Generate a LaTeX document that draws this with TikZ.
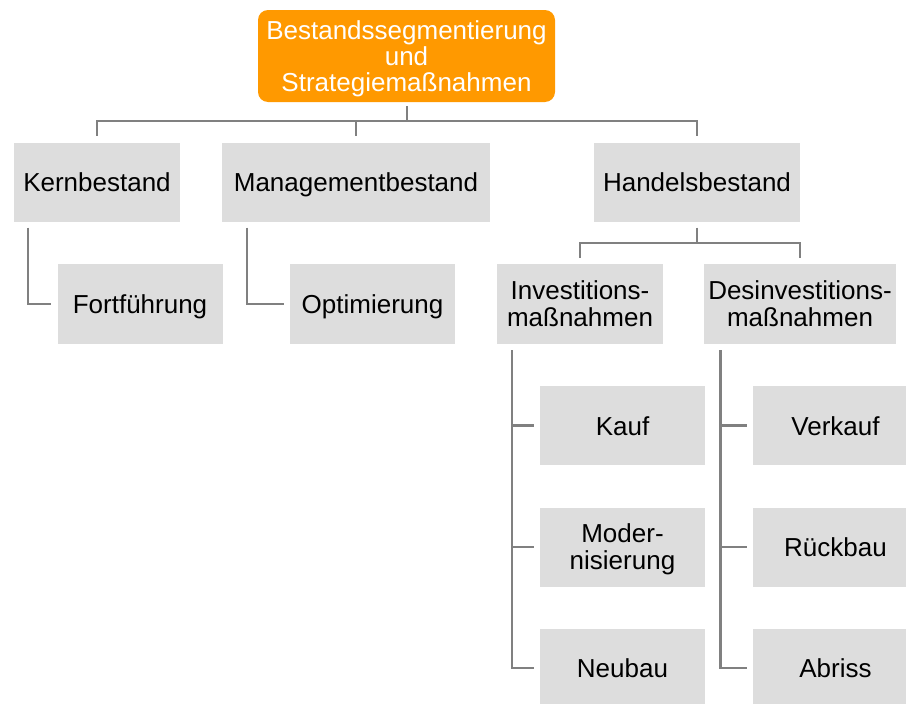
\documentclass[tikz,border=0pt]{standalone}
\usepackage{fontspec}
\setmainfont{Liberation Sans}
\definecolor{boxgray}{HTML}{DDDDDD}
\definecolor{toporange}{HTML}{FF9900}
\definecolor{linegray}{HTML}{808080}
\newcommand{\nodepth}[1]{\raisebox{0pt}[\height][0pt]{#1}}
\begin{document}
\begin{tikzpicture}[x=1pt,y=-1pt,
  box/.style={fill=boxgray, inner sep=0pt, align=center, text=black,
    font=\fontsize{26}{27}\selectfont, minimum height=79pt},
  onebox/.style={box, text height=19pt, text depth=0pt},
  topbox/.style={fill=toporange, rounded corners=10pt, inner sep=0pt, align=center,
    text=white, font=\fontsize{26}{26}\selectfont, minimum width=297pt, minimum height=92pt},
  conn/.style={draw=linegray, line width=2.5pt}]
\useasboundingbox (0,0) rectangle (906,704);
\clip (0,0) rectangle (906,704);
% nodes
\node[topbox] (top) at (406.5,56) {Bestandssegmentierung\\und\\\nodepth{Strategiemaßnahmen}};
\node[onebox, minimum width=166pt] (kern) at (97,182) {Kernbestand};
\node[onebox, minimum width=268pt] (mgmt) at (356,182) {Managementbestand};
\node[onebox, minimum width=206pt] (handel) at (697,182) {Handelsbestand};
\node[onebox, minimum width=165pt, minimum height=80pt] (fort) at (140,304) {Fortführung};
\node[onebox, minimum width=165pt, minimum height=80pt] (opt) at (372.5,304) {Optimierung};
\node[box, minimum width=166pt, minimum height=80pt] (inv) at (580,304) {Investitions-\\maßnahmen};
\node[box, minimum width=192pt, minimum height=80pt] (desinv) at (800,304) {Desinvestitions-\\maßnahmen};
\node[onebox, minimum width=165pt] (kauf) at (622.5,425.5) {Kauf};
\node[box, minimum width=165pt] (modern) at (622.5,547) {Moder-\\\nodepth{nisierung}};
\node[onebox, minimum width=165pt] (neubau) at (622.5,668) {Neubau};
\node[onebox, minimum width=165pt] (verkauf) at (835.5,425.5) {Verkauf};
\node[onebox, minimum width=165pt] (rueck) at (835.5,547) {Rückbau};
\node[onebox, minimum width=165pt] (abriss) at (835.5,668) {Abriss};
% connectors, top level
\coordinate (j1) at (407,121);
\draw[conn] ([yshift=-4pt]top.south -| j1) -- (j1);
\draw[conn] (j1) -| ([yshift=6pt]kern.north);
\draw[conn] (j1) -| ([yshift=6pt]mgmt.north);
\draw[conn] (j1) -| ([yshift=6pt]handel.north);
% Kern -> Fortfuehrung
\draw[conn] ([xshift=14.3pt,yshift=-6pt]kern.south west) |- ([xshift=-6pt]fort.west);
% Management -> Optimierung
\draw[conn] ([xshift=25pt,yshift=-6pt]mgmt.south west) |- ([xshift=-6pt]opt.west);
% Handel -> Investition / Desinvestition
\coordinate (j2) at (697,243);
\draw[conn] ([yshift=-6pt]handel.south) -- (j2);
\draw[conn] (j2) -| ([yshift=6pt]inv.north);
\draw[conn] (j2) -| ([yshift=6pt]desinv.north);
% Investition -> children
\coordinate (iv) at ([xshift=15pt,yshift=-6pt]inv.south west);
\draw[conn] (iv) |- ([xshift=-6pt]neubau.west);
\draw[conn] (kauf.west -| iv) -- ([xshift=-6pt]kauf.west);
\draw[conn] (modern.west -| iv) -- ([xshift=-6pt]modern.west);
% Desinvestition -> children
\coordinate (dv) at ([xshift=16.7pt,yshift=-6pt]desinv.south west);
\draw[conn] (dv) |- ([xshift=-6pt]abriss.west);
\draw[conn] (verkauf.west -| dv) -- ([xshift=-6pt]verkauf.west);
\draw[conn] (rueck.west -| dv) -- ([xshift=-6pt]rueck.west);
\end{tikzpicture}
\end{document}
